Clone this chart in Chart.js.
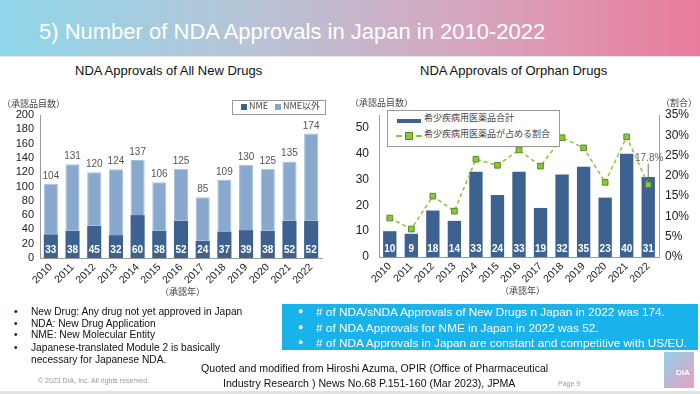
<!DOCTYPE html>
<html>
<head>
<meta charset="utf-8">
<script src="https://cdn.jsdelivr.net/npm/chart.js@4/dist/chart.umd.min.js"></script>
<style>
  body { margin: 0; width: 700px; height: 394px; position: relative; overflow: hidden; background: #fff; font-family: "Liberation Sans", Arial, sans-serif; }
  .abs { position: absolute; white-space: nowrap; line-height: 1.15; }
  #titlebar { left: 0; top: 0; width: 700px; height: 56px; background: linear-gradient(90deg, #8fd6ea 0%, #b6c4d7 35%, #d5a8c0 65%, #ea7c9b 100%); border-bottom: 1px solid #e8e8ec; }
  #title { left: 39px; top: 19px; font-size: 22px; color: #fff; }
  .sub { font-size: 13px; color: #111; top: 64px; }
  .jp { font-family: "Noto Sans CJK JP", sans-serif; color: #444; font-size: 9px; }
  canvas { position: absolute; }
  .legend { border: 1px solid #999; background: #fff; font-family: "Noto Sans CJK JP", "Liberation Sans", sans-serif; font-size: 9px; color: #444; }
  .bul { font-size: 10.2px; color: #111; }
  .quote { font-size: 10.6px; color: #111; }
  #bluebox { left: 282px; top: 304px; width: 416px; height: 46px; background: #1ab2ea; }
  .wb { font-size: 11.8px; color: #fff; left: 316px; }
  .wdot { left: 298px; color: #fff; font-size: 9px; }
</style>
</head>
<body>
<div class="abs" id="titlebar"></div>
<div class="abs" id="title">5) Number of NDA Approvals in Japan in 2010-2022</div>

<div class="abs sub" style="left:75px;">NDA Approvals of All New Drugs</div>
<div class="abs sub" style="left:420px;">NDA Approvals of Orphan Drugs</div>

<canvas id="allChart" width="340" height="205" style="left:0;top:95px;"></canvas>
<canvas id="orphanChart" width="360" height="205" style="left:340px;top:95px;"></canvas>

<div class="abs jp" style="left:2px;top:99px;">（承認品目数）</div>
<div class="abs jp" style="left:160px;top:287px;">（承認年）</div>
<div class="abs jp" style="left:350px;top:98px;">（承認品目数）</div>
<div class="abs jp" style="left:661px;top:98px;">（割合）</div>
<div class="abs jp" style="left:500px;top:286px;">（承認年）</div>

<div class="abs legend" style="left:232px;top:100px;width:92px;height:13px;">
  <span class="abs" style="left:8px;top:3px;width:6px;height:6px;background:#3d6290;"></span>
  <span class="abs" style="left:16px;top:0px;">NME</span>
  <span class="abs" style="left:42px;top:3px;width:6px;height:6px;background:#88a9cd;"></span>
  <span class="abs" style="left:50px;top:0px;">NME以外</span>
</div>

<div class="abs legend" style="left:387px;top:110px;width:171px;height:35px;">
  <span class="abs" style="left:9px;top:8px;width:24px;height:4px;background:#3d6290;"></span>
  <span class="abs" style="left:36px;top:2px;">希少疾病用医薬品合計</span>
  <span class="abs" style="left:8px;top:24px;width:26px;height:0;border-top:2px dashed #8cc63f;"></span>
  <span class="abs" style="left:17px;top:21px;width:6px;height:6px;background:#8cc63f;border:1px solid #5a8a1f;"></span>
  <span class="abs" style="left:36px;top:18px;">希少疾病用医薬品が占める割合</span>
</div>

<div class="abs bul" style="left:14px;top:306px;">•</div>
<div class="abs bul" style="left:31px;top:306px;">New Drug: Any drug not yet approved in Japan</div>
<div class="abs bul" style="left:14px;top:318px;">•</div>
<div class="abs bul" style="left:31px;top:318px;">NDA: New Drug Application</div>
<div class="abs bul" style="left:14px;top:329px;">•</div>
<div class="abs bul" style="left:31px;top:329px;">NME: New Molecular Entity</div>
<div class="abs bul" style="left:14px;top:342px;">•</div>
<div class="abs bul" style="left:31px;top:342px;">Japanese-translated Module 2 is basically</div>
<div class="abs bul" style="left:31px;top:354px;">necessary for Japanese NDA.</div>

<div class="abs" id="bluebox"></div>
<div class="abs wdot" style="top:306px;">●</div>
<div class="abs wb" style="top:306px;"># of NDA/sNDA Approvals of New Drugs n Japan in 2022 was 174.</div>
<div class="abs wdot" style="top:322px;">●</div>
<div class="abs wb" style="top:322px;"># of NDA Approvals for NME in Japan in 2022 was 52.</div>
<div class="abs wdot" style="top:337px;">●</div>
<div class="abs wb" style="top:337px;"># of NDA Approvals in Japan are constant and competitive with US/EU.</div>

<div class="abs quote" style="left:201px;top:362px;">Quoted and modified from Hiroshi Azuma, OPIR (Office of Pharmaceutical</div>
<div class="abs quote" style="left:223px;top:377px;">Industry Research ) News No.68 P.151-160 (Mar 2023), JPMA</div>
<div class="abs" style="left:38px;top:377px;font-size:7px;color:#999;">© 2023 DIA, Inc. All rights reserved.</div>
<div class="abs" style="left:558px;top:380px;font-size:7px;color:#999;">Page 9</div>
<div class="abs" style="left:664px;top:352px;width:30px;height:36px;background:linear-gradient(135deg,#8fd0ea,#e7a0c0);"></div>
<div class="abs" style="left:676px;top:368px;font-size:8px;color:#fff;font-weight:bold;">DIA</div>
<div class="abs" style="left:0;top:391px;width:700px;height:3px;background:#e2e2e2;"></div>

<script>
const years = ['2010', '2011', '2012', '2013', '2014', '2015', '2016', '2017', '2018', '2019', '2020', '2021', '2022'];
const nmeCounts = [33, 38, 45, 32, 60, 38, 52, 24, 37, 39, 38, 52, 52];
const otherCounts = [71, 93, 75, 92, 77, 68, 73, 61, 72, 91, 87, 83, 122];
const totalCounts = [104, 131, 120, 124, 137, 106, 125, 85, 109, 130, 125, 135, 174];
const orphanCounts = [10, 9, 18, 14, 33, 24, 33, 19, 32, 35, 23, 40, 31];
const orphanShare = [9.6, 6.9, 15.0, 11.3, 24.1, 22.6, 26.4, 22.4, 29.4, 26.9, 18.4, 29.6, 17.8];
const orphanCountTicks = [0, 10, 20, 30, 40, 50];

const darkBlue = '#3d6290';
const lightBlue = '#88a9cd';
const green = '#8cc63f';
const fontFamily = '"Liberation Sans", Arial, sans-serif';

// draws the numbers on the bars
const barLabels = {
    id: 'barLabels',
    afterDatasetsDraw(chart, args, opts) {
        const ctx = chart.ctx;
        ctx.save();
        ctx.textAlign = 'center';
        ctx.font = 'bold 10px ' + fontFamily;
        ctx.fillStyle = '#fff';
        const base = chart.scales.y.getPixelForValue(0);
        chart.getDatasetMeta(0).data.forEach((bar, i) => {
            ctx.fillText(opts.inside[i], bar.x, base - 5);
        });
        if (opts.totals) {
            ctx.font = '10px ' + fontFamily;
            ctx.fillStyle = '#555';
            chart.getDatasetMeta(1).data.forEach((bar, i) => {
                ctx.fillText(opts.totals[i], bar.x, bar.y - 5);
            });
        }
        if (opts.note) {
            const pt = chart.getDatasetMeta(1).data[12];
            ctx.strokeStyle = '#777';
            ctx.lineWidth = 1;
            ctx.beginPath();
            ctx.moveTo(pt.x, pt.y - 5);
            ctx.lineTo(pt.x, pt.y - 21);
            ctx.stroke();
            ctx.font = '10px ' + fontFamily;
            ctx.fillStyle = '#666';
            ctx.fillText(opts.note, pt.x + 1, pt.y - 24);
        }
        ctx.restore();
    }
};

new Chart(document.getElementById('allChart'), {
    type: 'bar',
    data: {
        labels: years,
        datasets: [
            { label: 'NME', data: nmeCounts, backgroundColor: darkBlue, barPercentage: 0.65, categoryPercentage: 1 },
            { label: 'NME以外', data: otherCounts, backgroundColor: lightBlue, borderColor: '#a9c1dc', borderWidth: 1, borderSkipped: 'bottom', barPercentage: 0.65, categoryPercentage: 1 }
        ]
    },
    options: {
        responsive: false,
        animation: false,
        layout: { padding: { top: 20, right: 18, left: 0, bottom: 0 } },
        plugins: {
            legend: { display: false },
            tooltip: { enabled: false },
            barLabels: { inside: nmeCounts, totals: totalCounts }
        },
        scales: {
            x: {
                stacked: true,
                grid: { display: false, drawTicks: true, tickLength: 3 },
                border: { color: '#999' },
                ticks: { font: { family: fontFamily, size: 10.5 }, color: '#222', autoSkip: false, maxRotation: 45, minRotation: 45, padding: 0 },
                afterFit(scale) { scale.height = 42; }
            },
            y: {
                stacked: true,
                min: 0,
                max: 200,
                grid: { display: false, drawTicks: true, tickLength: 3 },
                border: { color: '#999' },
                ticks: { stepSize: 20, autoSkip: false, font: { family: fontFamily, size: 11 }, color: '#222', padding: 3 },
                afterFit(scale) { scale.width = 40; }
            }
        }
    },
    plugins: [barLabels]
});

new Chart(document.getElementById('orphanChart'), {
    type: 'bar',
    data: {
        labels: years,
        datasets: [
            { type: 'bar', label: '希少疾病用医薬品合計', data: orphanCounts, backgroundColor: darkBlue, yAxisID: 'y', barPercentage: 0.62, categoryPercentage: 1, order: 2 },
            { type: 'line', label: '希少疾病用医薬品が占める割合', data: orphanShare, yAxisID: 'y1', borderColor: green, borderWidth: 1.5, borderDash: [4, 3], pointStyle: 'rect', pointRadius: 4, pointBackgroundColor: green, pointBorderColor: '#5a8a1f', pointBorderWidth: 1, order: 1 }
        ]
    },
    options: {
        responsive: false,
        animation: false,
        layout: { padding: { top: 20, right: 0, left: 0, bottom: 0 } },
        plugins: {
            legend: { display: false },
            tooltip: { enabled: false },
            barLabels: { inside: orphanCounts, note: '17.8%' }
        },
        scales: {
            x: {
                grid: { display: false, drawTicks: true, tickLength: 3 },
                border: { color: '#999' },
                ticks: { font: { family: fontFamily, size: 10.5 }, color: '#222', autoSkip: false, maxRotation: 45, minRotation: 45, padding: 0 },
                afterFit(scale) { scale.height = 43; }
            },
            y: {
                position: 'left',
                min: 0,
                max: 55,
                grid: { display: false, drawTicks: true, tickLength: 3 },
                border: { color: '#999' },
                ticks: { autoSkip: false, font: { family: fontFamily, size: 12 }, color: '#222', padding: 7 },
                afterBuildTicks(scale) { scale.ticks = orphanCountTicks.map(v => ({ value: v })); },
                afterFit(scale) { scale.width = 39; }
            },
            y1: {
                position: 'right',
                min: 0,
                max: 35,
                grid: { display: false, drawTicks: true, tickLength: 3 },
                border: { color: '#999' },
                ticks: { stepSize: 5, autoSkip: false, font: { family: fontFamily, size: 12 }, color: '#222', padding: 3, callback: v => v + '%' },
                afterFit(scale) { scale.width = 41; }
            }
        }
    },
    plugins: [barLabels]
});
</script>
</body>
</html>
